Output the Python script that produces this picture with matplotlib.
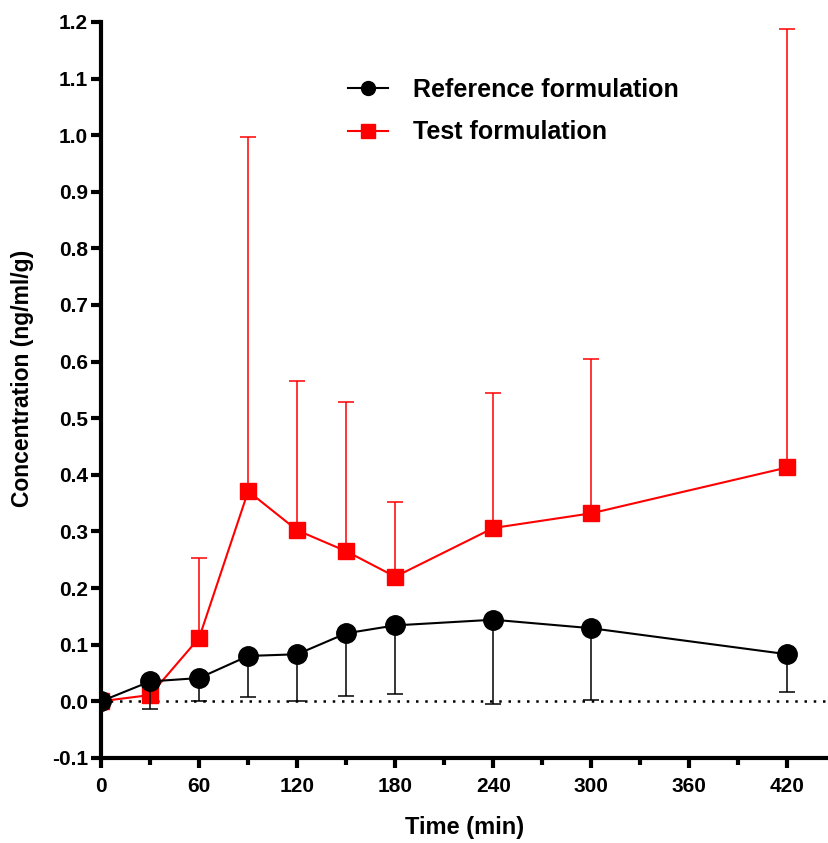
"""
Concentration vs time: reference and test formulation (mean, one-sided error bars)
"""

import numpy as np
import matplotlib
matplotlib.use("Agg")
import matplotlib.pyplot as plt
from matplotlib.lines import Line2D

plt.rcParams["font.family"] = ["Liberation Sans", "DejaVu Sans"]

TIME = [0, 30, 60, 90, 120, 150, 180, 240, 300, 420]

REF_MEAN = [0.0, 0.035, 0.041, 0.080, 0.083, 0.120, 0.134, 0.144, 0.129, 0.083]
REF_LOW = [0.0, -0.014, 0.0, 0.008, 0.001, 0.010, 0.013, -0.004, 0.002, 0.016]

TEST_MEAN = [0.0, 0.011, 0.112, 0.371, 0.302, 0.265, 0.220, 0.306, 0.332, 0.413]
TEST_HIGH = [0.0, 0.011, 0.253, 0.997, 0.565, 0.528, 0.352, 0.545, 0.604, 1.187]

RED = "#ff0000"


def main():
    fig = plt.figure(figsize=(8.29, 8.43), dpi=100)
    ax = fig.add_axes([0.122, 0.101, 0.877, 0.873])

    ax.axhline(0, color="black", linestyle=(0, (1, 2.7)), linewidth=1.8, zorder=1)

    ref_mean = np.array(REF_MEAN)
    ref_err = np.vstack([ref_mean - np.array(REF_LOW), np.zeros(len(ref_mean))])
    test_mean = np.array(TEST_MEAN)
    test_err = np.vstack([np.zeros(len(test_mean)), np.array(TEST_HIGH) - test_mean])

    ax.errorbar(TIME, TEST_MEAN, yerr=test_err, color=RED, marker="s", markersize=11,
                linewidth=1.5, elinewidth=1.1, capsize=6, capthick=1.1, zorder=3)
    ax.errorbar(TIME, REF_MEAN, yerr=ref_err, color="black", marker="o", markersize=14,
                linewidth=1.5, elinewidth=1.1, capsize=6, capthick=1.1, zorder=4)

    ax.set_xlim(0, 445)
    ax.set_ylim(-0.1, 1.2)
    ax.set_xticks(range(0, 421, 60))
    ax.set_xticks(range(30, 421, 60), minor=True)
    yt = np.arange(-0.1, 1.21, 0.1)
    ax.set_yticks(yt)
    ax.set_yticklabels([f"{v:.1f}" for v in yt])

    for side in ["top", "right"]:
        ax.spines[side].set_visible(False)
    for side in ["left", "bottom"]:
        ax.spines[side].set_linewidth(3)
    ax.tick_params(axis="both", which="major", width=3, length=7.5, labelsize=15)
    ax.tick_params(axis="x", which="major", pad=6)
    ax.tick_params(axis="y", which="major", pad=2)
    ax.tick_params(axis="x", which="minor", width=3, length=5)
    for lab in ax.get_xticklabels() + ax.get_yticklabels():
        lab.set_fontweight("bold")

    ax.set_xlabel("Time (min)", fontsize=17, fontweight="bold", labelpad=15)
    ax.set_ylabel("Concentration (ng/ml/g)", fontsize=16.5, fontweight="bold")
    ax.yaxis.set_label_coords(-0.092, 0.516)

    handles = [
        Line2D([], [], color="black", marker="o", markersize=10, linewidth=1.5),
        Line2D([], [], color=RED, marker="s", markersize=10, linewidth=1.5),
    ]
    ax.legend(handles, ["Reference formulation", "Test formulation"], loc="upper left",
              bbox_to_anchor=(0.308, 0.955), frameon=False,
              prop={"size": 18, "weight": "bold"}, handlelength=1.6,
              handletextpad=1.0, labelspacing=0.75)

    plt.savefig("out.png", dpi=100)
    plt.close()


if __name__ == "__main__":
    main()
